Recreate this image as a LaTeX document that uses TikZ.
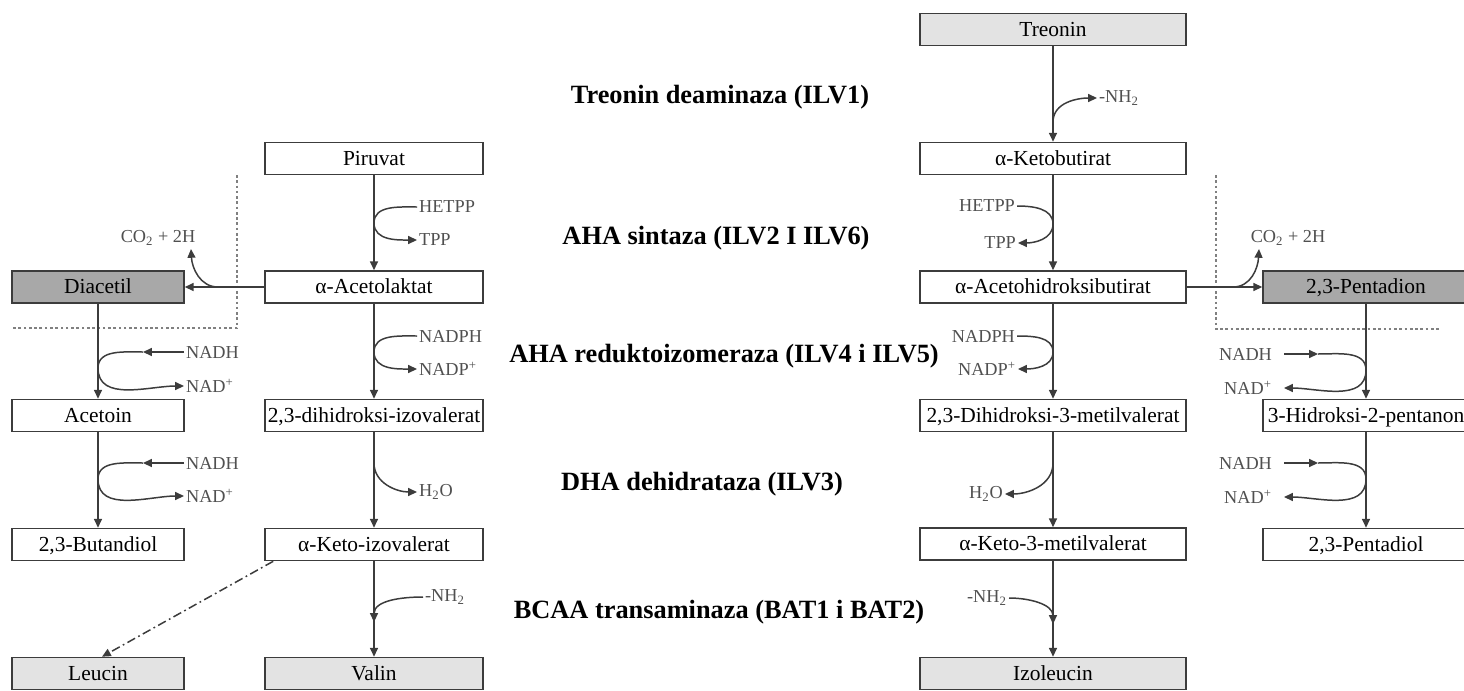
\documentclass[tikz,border=0pt]{standalone}
\usepackage{fontspec}
\setmainfont{Liberation Serif}
\usetikzlibrary{arrows.meta}
\definecolor{ln}{HTML}{3C3C3C}
\definecolor{labc}{HTML}{505050}
\definecolor{lgray}{HTML}{E3E3E3}
\definecolor{dgray}{HTML}{A8A8A8}
\begin{document}
\begin{tikzpicture}[x=0.02cm,y=-0.02cm,
 box/.style={draw=ln,line width=0.9pt,minimum height=0.64cm,inner sep=0pt,text height=9.6pt,text depth=2pt,font=\fontsize{12.2}{14}\selectfont},
 wbox/.style={box,minimum width=5.32cm},
 mbox/.style={box,minimum width=4.36cm},
 sbox/.style={box,minimum width=3.44cm},
 pbox/.style={box,minimum width=4.12cm},
 lite/.style={fill=lgray},
 dark/.style={fill=dgray},
 lab/.style={text=labc,font=\fontsize{10.4}{12}\selectfont,inner sep=1pt},
 enz/.style={font=\bfseries\fontsize{15}{18}\selectfont,inner sep=0pt},
 flow/.style={draw=ln,line width=0.95pt,-{Triangle[length=5pt,width=4.5pt]}},
 side/.style={draw=ln,line width=0.85pt,-{Triangle[length=5pt,width=4.5pt]}},
 fence/.style={draw=gray,line width=0.6pt,dash pattern=on 1.5pt off 1.5pt},
 dashdot/.style={draw=ln,line width=0.85pt,dash pattern=on 5pt off 2pt on 1pt off 2pt,-{Triangle[length=5pt,width=4.5pt]}}
]
\useasboundingbox (0,0) rectangle (1464,690);
\clip (0,0) rectangle (1464,690);

% fences
\draw[fence] (237,175) -- (237,328) -- (12,328);
\draw[fence] (1216,175) -- (1216,329) -- (1440,329);

% right main column
\node[wbox,lite] (tre) at (1053,29.5) {Treonin};
\node[wbox] (kb) at (1053,158.5) {α-Ketobutirat};
\node[wbox] (ahb) at (1053,287) {α-Acetohidroksibutirat};
\node[wbox] (dhm) at (1053,415.5) {2,3-Dihidroksi-3-metilvalerat};
\node[wbox] (k3m) at (1053,544) {α-Keto-3-metilvalerat};
\node[wbox,lite] (ile) at (1053,673.5) {Izoleucin};

% left main column
\node[mbox] (pir) at (374,158.5) {Piruvat};
\node[mbox] (acl) at (374,287) {α-Acetolaktat};
\node[mbox] (dhi) at (374,415.5) {2,3-dihidroksi-izovalerat};
\node[mbox] (kiv) at (374,544.5) {α-Keto-izovalerat};
\node[mbox,lite] (val) at (374,673.5) {Valin};

% left side column
\node[sbox,dark] (dia) at (98,287) {Diacetil};
\node[sbox] (act) at (98,415.5) {Acetoin};
\node[sbox] (but) at (98,544.5) {2,3-Butandiol};
\node[sbox,lite] (leu) at (98,673.5) {Leucin};

% right side column
\node[pbox,dark] (pen) at (1366,287) {2,3-Pentadion};
\node[pbox] (hpn) at (1366,415.5) {3-Hidroksi-2-pentanon};
\node[pbox] (pdl) at (1366,544.5) {2,3-Pentadiol};

% enzymes
\node[enz] (e1) at (720,97) {Treonin deaminaza (ILV1)};
\node[enz] (e2) at (716,238) {AHA sintaza (ILV2 I ILV6)};
\node[enz] (e3) at (724,356) {AHA reduktoizomeraza (ILV4 i ILV5)};
\node[enz] (e4) at (702,484) {DHA dehidrataza (ILV3)};
\node[enz] (e5) at (719,612) {BCAA transaminaza (BAT1 i BAT2)};

% main flows
\draw[flow] (tre) -- (kb);
\draw[flow] (kb) -- (ahb);
\draw[flow] (ahb) -- (dhm);
\draw[flow] (dhm) -- (k3m);
\draw[flow] (k3m) -- (ile);
\draw[flow] (pir) -- (acl);
\draw[flow] (acl) -- (dhi);
\draw[flow] (dhi) -- (kiv);
\draw[flow] (kiv) -- (val);
\draw[flow] (dia) -- (act);
\draw[flow] (act) -- (but);
\draw[flow] (pen) -- (hpn);
\draw[flow] (hpn) -- (pdl);
\draw[flow] (acl.west) -- (dia.east);
\draw[flow] (ahb.east) -- (pen.west);
\draw[dashdot] ([xshift=0.18cm]kiv.south west) -- ([xshift=0.08cm]leu.north);

% left main side reactions
\node[lab,anchor=west] (hetL) at (417,207) {HETPP};
\node[lab,anchor=west] (tppL) at (417,240) {TPP};
\coordinate (aL1) at (374,223);
\draw[side] (hetL.west) to[out=180,in=90] (aL1) to[out=-90,in=180] (tppL.west);
\node[lab,anchor=west] (nadphL) at (417,336) {NADPH};
\node[lab,anchor=west] (nadpL) at (417,369) {NADP\textsuperscript{+}};
\coordinate (aL2) at (374,352);
\draw[side] (nadphL.west) to[out=180,in=90] (aL2) to[out=-90,in=180] (nadpL.west);
\node[lab,anchor=west] (h2oL) at (417,492) {H\textsubscript{2}O};
\coordinate (aL3) at (374,463);
\draw[side] (aL3) to[out=-90,in=180] (h2oL.west);
\node[lab,anchor=west] (nh2L) at (423,597) {-NH\textsubscript{2}};
\coordinate (aL4) at (374,622);
\draw[side] (nh2L.west) to[out=180,in=90] (aL4);

% left CO2
\node[lab] (co2L) at (158,238) {CO\textsubscript{2} + 2H};
\coordinate (bL) at (218,287);
\coordinate (tL) at (191,249);
\draw[side] (bL) .. controls (200,287) and (192,268) .. (tL);

% diacetil column reactions
\node[lab,anchor=west] (nadh1) at (184,352) {NADH};
\node[lab,anchor=west] (nad1) at (184,386) {NAD\textsuperscript{+}};
\coordinate (m1) at (143,352);
\coordinate (ap1) at (98,368);
\draw[side] (nadh1.west) -- (m1);
\draw[side] (m1) to[out=180,in=90] (ap1) to[out=-90,in=180] (nad1.west);
\node[lab,anchor=west] (nadh2) at (184,463) {NADH};
\node[lab,anchor=west] (nad2) at (184,496) {NAD\textsuperscript{+}};
\coordinate (m2) at (143,463);
\coordinate (ap2) at (98,479);
\draw[side] (nadh2.west) -- (m2);
\draw[side] (m2) to[out=180,in=90] (ap2) to[out=-90,in=180] (nad2.west);

% right main side reactions
\node[lab,anchor=west] (nh2T) at (1097,98) {-NH\textsubscript{2}};
\coordinate (aR0) at (1053,122);
\draw[side] (aR0) to[out=90,in=180] (nh2T.west);
\node[lab,anchor=east] (hetR) at (1017,206) {HETPP};
\node[lab,anchor=east] (tppR) at (1018,243) {TPP};
\coordinate (aR1) at (1053,224);
\draw[side] (hetR.east) to[out=0,in=90] (aR1) to[out=-90,in=0] (tppR.east);
\node[lab,anchor=east] (nadphR) at (1017,336) {NADPH};
\node[lab,anchor=east] (nadpR) at (1018,369) {NADP\textsuperscript{+}};
\coordinate (aR2) at (1053,352);
\draw[side] (nadphR.east) to[out=0,in=90] (aR2) to[out=-90,in=0] (nadpR.east);
\node[lab,anchor=east] (h2oR) at (1005,494) {H\textsubscript{2}O};
\coordinate (aR3) at (1053,463);
\draw[side] (aR3) to[out=-90,in=0] (h2oR.east);
\node[lab,anchor=east] (nh2R) at (1009,598) {-NH\textsubscript{2}};
\coordinate (aR4) at (1053,624);
\draw[side] (nh2R.east) to[out=0,in=90] (aR4);

% right CO2
\node[lab] (co2R) at (1288,238) {CO\textsubscript{2} + 2H};
\coordinate (bR) at (1233,287);
\coordinate (tR) at (1259,249);
\draw[side] (bR) .. controls (1251,287) and (1258,268) .. (tR);

% pentadion column reactions
\node[lab,anchor=east] (nadh3) at (1274,354) {NADH};
\node[lab,anchor=east] (nad3) at (1274,388) {NAD\textsuperscript{+}};
\coordinate (m3) at (1318,354);
\coordinate (ap3) at (1366,370);
\draw[side] ([xshift=0.2cm]nadh3.east) -- (m3);
\draw[side] (m3) to[out=0,in=90] (ap3) to[out=-90,in=0] ([xshift=0.2cm]nad3.east);
\node[lab,anchor=east] (nadh4) at (1274,463) {NADH};
\node[lab,anchor=east] (nad4) at (1274,497) {NAD\textsuperscript{+}};
\coordinate (m4) at (1318,463);
\coordinate (ap4) at (1366,479);
\draw[side] ([xshift=0.2cm]nadh4.east) -- (m4);
\draw[side] (m4) to[out=0,in=90] (ap4) to[out=-90,in=0] ([xshift=0.2cm]nad4.east);
\end{tikzpicture}
\end{document}
